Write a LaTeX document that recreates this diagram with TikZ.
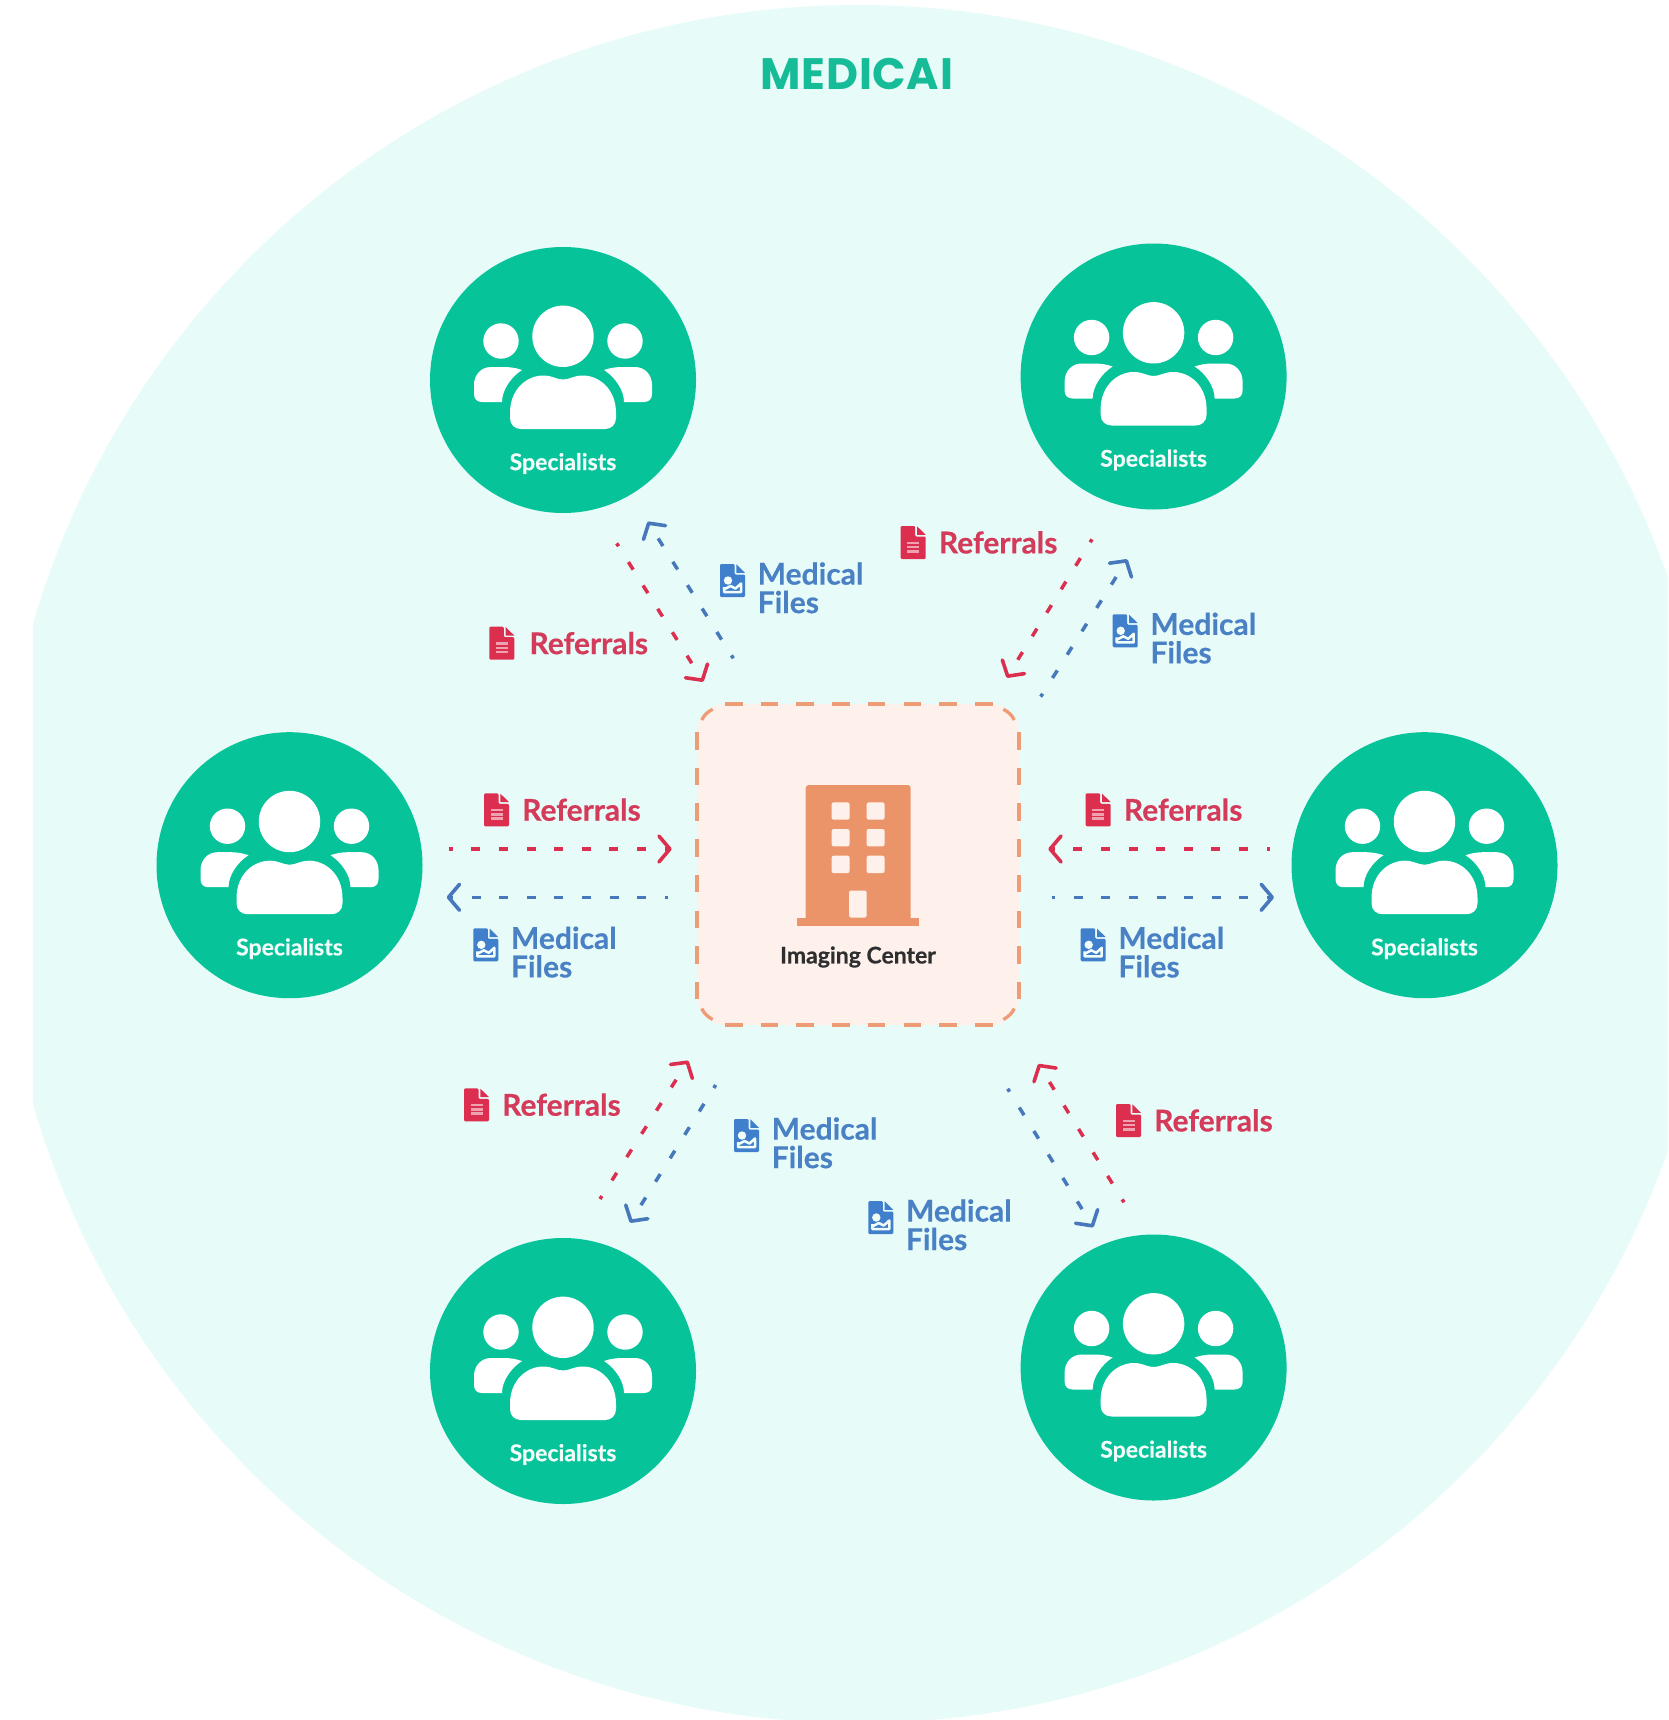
\documentclass[tikz,border=0pt]{standalone}
\usepackage{fontspec}
\setmainfont{Lato}[BoldFeatures={FakeBold=0.35}]
\newfontfamily\logofont{Poppins}[LetterSpace=1.5]
\usetikzlibrary{arrows.meta}
\definecolor{bgmint}{HTML}{E7FCF9}
\definecolor{teal}{HTML}{06C39A}
\definecolor{softwhite}{HTML}{F2FDFA}
\definecolor{logoteal}{HTML}{15BC97}
\definecolor{refred}{HTML}{DC2F50}
\definecolor{reftext}{HTML}{D43A59}
\definecolor{fileblue}{HTML}{3F7FCC}
\definecolor{filetext}{HTML}{4A80C4}
\definecolor{flowblue}{HTML}{4778BC}
\definecolor{hubfill}{HTML}{FEF1EC}
\definecolor{hubline}{HTML}{EE9C75}
\definecolor{building}{HTML}{EB946A}
\definecolor{inkdark}{HTML}{2E2E2E}
\tikzset{
  flow/.style={line width=3.5pt,dash pattern=on 9pt off 18.6pt,dash phase=5.5pt,
    -{Straight Barb[length=11pt,width=26pt,line width=3.6pt,round]}},
  redflow/.style={flow,draw=refred},
  blueflow/.style={flow,draw=flowblue},
  specialist/.style={circle,fill=teal,inner sep=0pt,minimum size=266pt},
  hubbox/.style={fill=hubfill,rounded corners=28pt,inner sep=0pt,minimum width=322pt,minimum height=321pt},
  hubedge/.style={draw=hubline,line width=3.3pt},
  hubdash/.style={hubedge,dash pattern=on 17.6pt off 18.1pt},
  reflabel/.style={anchor=west,inner sep=0pt,text=reftext,font=\fontsize{30}{28}\selectfont\bfseries},
  filelabel/.style={anchor=west,inner sep=0pt,align=left,text=filetext,font=\fontsize{30}{28.5}\selectfont\bfseries},
  people/.pic={
    \fill[white] (0,-43.7) circle[radius=30.7];
    \fill[white] (-62,-39) circle[radius=17.7];
    \fill[white] (62,-39) circle[radius=17.7];
    \fill[white] (-53,33) .. controls (-53,8) and (-35,-4.5) .. (-20,-4.5)
      .. controls (-10,-4.5) and (-7,-0.5) .. (0,-0.5)
      .. controls (7,-0.5) and (10,-4.5) .. (20,-4.5)
      .. controls (35,-4.5) and (53,8) .. (53,33) -- (53,38)
      .. controls (53,45) and (48,49) .. (42,49) -- (-42,49)
      .. controls (-48,49) and (-53,45) .. (-53,38) -- cycle;
    \fill[white] (-41,-10) .. controls (-47,-12) and (-52,-13) .. (-60,-13) -- (-72,-13)
      .. controls (-82,-13) and (-89,-5) .. (-89,5) -- (-89,14)
      .. controls (-89,19) and (-86,22) .. (-81,22) -- (-61,22)
      .. controls (-61,10) and (-52,-3) .. (-41,-10) -- cycle;
    \fill[white] (41,-10) .. controls (47,-12) and (52,-13) .. (60,-13) -- (72,-13)
      .. controls (82,-13) and (89,-5) .. (89,5) -- (89,14)
      .. controls (89,19) and (86,22) .. (81,22) -- (61,22)
      .. controls (61,10) and (52,-3) .. (41,-10) -- cycle;
    \node (-t) at (0,83.5) [text=softwhite,inner sep=0pt,font=\fontsize{23}{26}\selectfont\bfseries] {Specialists};
  },
  docbody/.pic={
    \fill[rounded corners=1.2pt] (0,0) -- (14.5,0) -- (14.5,10.5) -- (25,10.5) -- (25,33) -- (0,33) -- cycle;
    \fill (16.3,0.3) -- (25,8.8) -- (16.3,8.8) -- cycle;
  },
  refdoc/.pic={
    \begin{scope}[refred]
      \pic {docbody};
    \end{scope}
    \fill[refred!45!white] (6.5,15.5) rectangle (18.5,18);
    \fill[refred!45!white] (6.5,19.8) rectangle (18.5,22.3);
    \fill[refred!45!white] (6.5,24.1) rectangle (18.5,26.6);
  },
  filedoc/.pic={
    \begin{scope}[fileblue]
      \pic {docbody};
    \end{scope}
    \fill[softwhite] (8,16.5) circle[radius=4.2];
    \draw[softwhite,line width=2.5pt,line join=round] (4,23) -- (4,28) -- (21,28) -- (21,19.5) -- (15.5,24.5) -- (10.5,22) -- (4,25.5);
  }
}
\newcommand{\reftag}[4][38]{%
  \pic at (#3,#4) {refdoc};
  \node[reflabel] (ref#2) at (#3+#1,#4+16.4) {Referrals};
}
\newcommand{\filetag}[3]{%
  \pic at (#2,#3) {filedoc};
  \node[filelabel] (file#1) at (#2+37.5,#3+23.8) {Medical\\Files};
}
\begin{document}
\begin{tikzpicture}[x=1pt,y=-1pt]
\useasboundingbox (0,0) rectangle (1668,1720);
\fill[white] (0,0) rectangle (1668,1720);
\begin{scope}
  \clip (33,0) rectangle (1668,1720);
  \fill[bgmint] (858,864) circle[radius=859];
\end{scope}

% logo
\node (logo) at (857,73.5) [inner sep=0pt,text=logoteal,font=\logofont\fontsize{44}{50}\selectfont\bfseries] {MEDICAI};

% specialists
\node[specialist] (s1) at (563,380) {};
\node[specialist] (s2) at (1153.6,376.5) {};
\node[specialist] (s3) at (289.5,865.2) {};
\node[specialist] (s4) at (1424.5,865.2) {};
\node[specialist] (s5) at (563,1371) {};
\node[specialist] (s6) at (1153.6,1367.5) {};
\pic (p1) at (s1) {people};
\pic (p2) at (s2) {people};
\pic (p3) at (s3) {people};
\pic (p4) at (s4) {people};
\pic (p5) at (s5) {people};
\pic (p6) at (s6) {people};

% imaging centre
\node[hubbox] (hub) at (858,864.5) {};
\draw[hubdash] (725,704) -- (993,704);
\draw[hubdash] (725,1025) -- (993,1025);
\draw[hubdash] (697,732) -- (697,999);
\draw[hubdash] (1019,732) -- (1019,999);
\draw[hubedge] (701.7,720) .. controls (704,715) and (708,711.5) .. (712.7,709.3);
\draw[hubedge] (1014.3,720) .. controls (1012,715) and (1008,711.5) .. (1003.3,709.3);
\draw[hubedge] (701.7,1008.5) .. controls (704,1013.5) and (708,1017) .. (712.7,1019.5);
\draw[hubedge] (1014.3,1008.5) .. controls (1012,1013.5) and (1008,1017) .. (1003.3,1019.5);
\fill[building,rounded corners=3pt] (805.7,785) rectangle (910.7,930);
\fill[hubfill] (790,926) rectangle (925,934);
\fill[building] (796.7,918) rectangle (919.3,926);
\foreach \wx in {831.7,866.7}{
  \foreach \wy in {802.3,829,855.7}{
    \fill[hubfill,rounded corners=2pt] (\wx,\wy) rectangle ++(17.8,17.4);
  }
}
\fill[hubfill,rounded corners=1.5pt] (849,890.7) rectangle (866.7,917.5);
\node (hublabel) at (858,957) [inner sep=0pt,text=inkdark,font=\fontsize{23}{26}\selectfont\bfseries] {Imaging Center};

% flow end points
\coordinate (tlrs) at (616.7,543.3);  \coordinate (tlre) at (703.3,681.7);
\coordinate (tlbs) at (733.3,658.3);  \coordinate (tlbe) at (647.7,521.7);
\coordinate (trrs) at (1092,539.3);   \coordinate (trre) at (1006.7,677.7);
\coordinate (trbs) at (1040.7,696.7); \coordinate (trbe) at (1127.3,559.3);
\coordinate (lmrs) at (449.3,849);    \coordinate (lmre) at (671.7,849);
\coordinate (lmbs) at (668.3,897.3);  \coordinate (lmbe) at (446.7,897.3);
\coordinate (rmrs) at (1270,849);     \coordinate (rmre) at (1048.3,849);
\coordinate (rmbs) at (1051.7,897.3); \coordinate (rmbe) at (1274,897.3);
\coordinate (blrs) at (600,1199);     \coordinate (blre) at (688.3,1060.7);
\coordinate (blbs) at (715.7,1085);   \coordinate (blbe) at (630,1222.7);
\coordinate (brrs) at (1124,1202.3);  \coordinate (brre) at (1038.3,1064);
\coordinate (brbs) at (1007.7,1088.7);\coordinate (brbe) at (1093.3,1227.3);

\draw[redflow] (tlrs) -- (tlre);
\draw[blueflow] (tlbs) -- (tlbe);
\draw[redflow] (trrs) -- (trre);
\draw[blueflow] (trbs) -- (trbe);
\draw[redflow] (lmrs) -- (lmre);
\draw[blueflow] (lmbs) -- (lmbe);
\draw[redflow] (rmrs) -- (rmre);
\draw[blueflow] (rmbs) -- (rmbe);
\draw[redflow] (blrs) -- (blre);
\draw[blueflow] (blbs) -- (blbe);
\draw[redflow] (brrs) -- (brre);
\draw[blueflow] (brbs) -- (brbe);

% labels
\reftag[40]{tl}{489.3}{626.7}
\reftag{tr}{900.7}{526}
\reftag{lm}{484}{793.3}
\reftag{rm}{1085.7}{793.3}
\reftag{bl}{464}{1088.3}
\reftag{br}{1116}{1104}
\filetag{tl}{720}{564}
\filetag{tr}{1112.7}{614.3}
\filetag{lm}{473.3}{928.3}
\filetag{rm}{1080.7}{928.3}
\filetag{bl}{734}{1119}
\filetag{br}{868.3}{1201}
\end{tikzpicture}
\end{document}
